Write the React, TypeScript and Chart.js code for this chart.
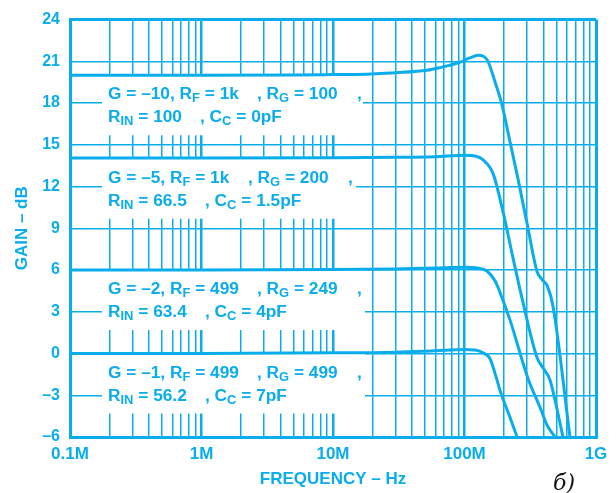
import React, { useEffect, useRef } from "react";
import { Chart, registerables } from "chart.js";

Chart.register(...registerables);

// ---------- data ----------
const freqDecades = [1e5, 1e6, 1e7, 1e8, 1e9];
const freqDecadeLabels = ["0.1M", "1M", "10M", "100M", "1G"];
const minorMultipliers = [2, 3, 4, 5, 6, 7, 8, 9];

const gainTicks = [-6, -3, 0, 3, 6, 9, 12, 15, 18, 21, 24];
const gainTickLabels = ["–6", "–3", "0", "3", "6", "9", "12", "15", "18", "21", "24"];

// G = -10
const freqG10 = [1e5, 1e6, 5e6, 1e7, 1.8e7, 3e7, 5.2e7, 6.5e7, 9.2e7, 1.1e8, 1.27e8, 1.4e8, 1.5e8, 1.71e8, 1.93e8, 2.22e8, 2.55e8, 3.04e8, 3.56e8, 3.9e8, 4.24e8, 4.71e8, 6.34e8];
const gainG10 = [20.0, 20.0, 20.02, 20.05, 20.08, 20.18, 20.36, 20.55, 20.93, 21.25, 21.43, 21.35, 21.05, 19.5, 17.86, 15.2, 12.57, 9.0, 5.9, 5.3, 4.9, 3.4, -6];

// G = -5
const freqG5 = [1e5, 1e6, 1e7, 3e7, 6e7, 1e8, 1.2e8, 1.38e8, 1.65e8, 1.96e8, 2.34e8, 2.79e8, 3.56e8, 4.0e8, 4.47e8, 4.88e8, 5.61e8];
const gainG5 = [14.05, 14.05, 14.07, 14.1, 14.15, 14.25, 14.2, 13.93, 12.93, 10.21, 6.86, 3.64, -0.29, -1.1, -1.9, -3.36, -6];

// G = -2
const freqG2 = [1e5, 1e6, 1e7, 3e7, 6e7, 1e8, 1.25e8, 1.48e8, 1.71e8, 1.93e8, 2.22e8, 3.04e8, 3.75e8, 4.24e8, 4.88e8];
const gainG2 = [6.0, 6.0, 6.03, 6.08, 6.15, 6.2, 6.15, 5.93, 5.21, 4.0, 2.4, -1.79, -3.86, -5.14, -6];

// G = -1
const freqG1 = [1e5, 1e6, 1e7, 3e7, 6e7, 1e8, 1.2e8, 1.38e8, 1.56e8, 1.77e8, 1.86e8, 2.2e8, 2.51e8];
const gainG1 = [0.0, 0.0, 0.05, 0.1, 0.2, 0.28, 0.25, 0.05, -0.36, -1.93, -2.64, -4.5, -6];

// labels (with _{...} subscripts)
const labelGains = [20, 14, 6, 0];
const labelRowA = ["G = –10, R_{F} = 1k", "G = –5, R_{F} = 1k", "G = –2, R_{F} = 499", "G = –1, R_{F} = 499"];
const labelRowB = [", R_{G} = 100", ", R_{G} = 200", ", R_{G} = 249", ", R_{G} = 499"];
const labelRowC = ["R_{IN} = 100", "R_{IN} = 66.5", "R_{IN} = 63.4", "R_{IN} = 56.2"];
const labelRowD = [", C_{C} = 0pF", ", C_{C} = 1.5pF", ", C_{C} = 4pF", ", C_{C} = 7pF"];

// ---------- styling / layout ----------
const CYAN = "#0AADEB";
const FONT = '"Liberation Sans", Arial, Helvetica, sans-serif';
const rowBx = [187, 178, 187, 187];
const commaX = [287, 278, 287, 287];
const rowDx = [130, 135, 135, 135];
const boxRight = [293, 286, 295, 295];
const TEXT_STRETCH = 1.08;

function toPoints(xs: number[], ys: number[]) {
  return xs.map((x, i) => ({ x, y: ys[i] }));
}

function drawRich(ctx: CanvasRenderingContext2D, text: string, x: number, y: number) {
  const parts = text.split(/(_\{[^}]*\})/);
  ctx.save();
  ctx.translate(x, y);
  ctx.scale(TEXT_STRETCH, 1);
  let cx = 0;
  for (const p of parts) {
    if (!p) continue;
    if (p.startsWith("_{")) {
      const s = p.slice(2, -1);
      ctx.font = `bold 12px ${FONT}`;
      ctx.fillText(s, cx, 3);
      cx += ctx.measureText(s).width;
    } else {
      ctx.font = `bold 16px ${FONT}`;
      ctx.fillText(p, cx, 0);
      cx += ctx.measureText(p).width;
    }
  }
  ctx.restore();
}

const labelPlugin = {
  id: "labelBoxes",
  beforeDatasetsDraw(chart: any) {
    const { ctx, chartArea, scales } = chart;
    const L = chartArea.left;
    ctx.save();
    labelGains.forEach((g, i) => {
      const yTop = scales.y.getPixelForValue(g);
      ctx.fillStyle = "#ffffff";
      ctx.fillRect(L + 32, yTop, boxRight[i] - 32, 60);
      ctx.fillStyle = CYAN;
      ctx.textBaseline = "alphabetic";
      ctx.textAlign = "left";
      drawRich(ctx, labelRowA[i], L + 38, yTop + 24);
      drawRich(ctx, labelRowB[i], L + rowBx[i], yTop + 24);
      drawRich(ctx, ",", L + commaX[i], yTop + 24);
      drawRich(ctx, labelRowC[i], L + 38, yTop + 47);
      drawRich(ctx, labelRowD[i], L + rowDx[i], yTop + 47);
    });
    ctx.restore();
  },
  afterDraw(chart: any) {
    const { ctx } = chart;
    ctx.save();
    ctx.fillStyle = "#111111";
    ctx.font = 'italic 22px "DejaVu Serif", serif';
    ctx.textBaseline = "alphabetic";
    ctx.textAlign = "left";
    ctx.fillText("б)", 553, 490);
    ctx.restore();
  },
};

export default function App() {
  const ref = useRef<HTMLCanvasElement | null>(null);

  useEffect(() => {
    if (!ref.current) return;
    const lineDs = (xs: number[], ys: number[]) => ({
      data: toPoints(xs, ys),
      borderColor: CYAN,
      borderWidth: 3,
      pointRadius: 0,
      fill: false,
      cubicInterpolationMode: "monotone" as const,
    });
    const chart = new Chart(ref.current, {
      type: "line",
      data: {
        datasets: [
          lineDs(freqG10, gainG10),
          lineDs(freqG5, gainG5),
          lineDs(freqG2, gainG2),
          lineDs(freqG1, gainG1),
        ],
      },
      options: {
        responsive: false,
        animation: false,
        layout: { padding: { top: 17, right: 20, left: 0, bottom: 0 } },
        plugins: {
          legend: { display: false },
          tooltip: { enabled: false },
        },
        font: { family: FONT },
        scales: {
          x: {
            type: "logarithmic",
            min: 1e5,
            max: 1e9,
            afterBuildTicks: (scale: any) => {
              const t: any[] = [];
              freqDecades.forEach((d, i) => {
                t.push({ value: d, major: true });
                if (i < freqDecades.length - 1) {
                  minorMultipliers.forEach((m) => t.push({ value: d * m, major: false }));
                }
              });
              scale.ticks = t;
            },
            afterFit: (scale: any) => {
              scale.height = 56;
            },
            ticks: {
              autoSkip: false,
              maxRotation: 0,
              padding: 7,
              color: CYAN,
              font: { family: FONT, size: 17, weight: "bold" },
              callback: (value: any) => {
                const idx = freqDecades.findIndex((d) => Math.abs(d - Number(value)) < d * 1e-6);
                return idx >= 0 ? freqDecadeLabels[idx] : "";
              },
            },
            grid: {
              drawTicks: false,
              color: CYAN,
              lineWidth: (ctx: any) => {
                const v = ctx.tick ? ctx.tick.value : 0;
                if (v === 1e5 || v === 1e9) return 3;
                return freqDecades.includes(v) ? 2.5 : 1.5;
              },
            },
            border: { display: true, color: CYAN, width: 3 },
            title: {
              display: true,
              text: "FREQUENCY – Hz",
              color: CYAN,
              font: { family: FONT, size: 17, weight: "bold" },
              padding: { top: 0, bottom: 3 },
            },
          },
          y: {
            type: "linear",
            min: -6,
            max: 24,
            afterBuildTicks: (scale: any) => {
              scale.ticks = gainTicks.map((v) => ({ value: v }));
            },
            afterFit: (scale: any) => {
              scale.width = 70;
            },
            ticks: {
              padding: 10,
              color: CYAN,
              font: { family: FONT, size: 16, weight: "bold" },
              callback: (value: any) => {
                const idx = gainTicks.indexOf(Number(value));
                return idx >= 0 ? gainTickLabels[idx] : "";
              },
            },
            grid: {
              drawTicks: false,
              color: CYAN,
              lineWidth: (ctx: any) => {
                const v = ctx.tick ? ctx.tick.value : 0;
                return v === -6 || v === 24 ? 3 : 1.4;
              },
            },
            border: { display: true, color: CYAN, width: 3 },
            title: {
              display: true,
              text: "GAIN – dB",
              color: CYAN,
              font: { family: FONT, size: 17, weight: "bold" },
              padding: { top: 12, bottom: 0 },
            },
          },
        },
      },
      plugins: [labelPlugin],
    } as any);
    return () => chart.destroy();
  }, []);

  return (
    <div style={{ position: "fixed", left: 0, top: 0, width: 616, height: 493, background: "#fff" }}>
      <canvas ref={ref} width={616} height={493} style={{ display: "block" }} />
    </div>
  );
}
